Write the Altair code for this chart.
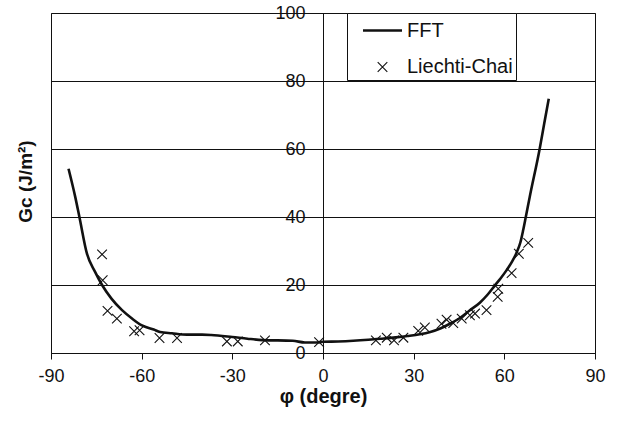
import altair as alt
import pandas as pd

# FFT prediction of the critical energy release rate vs ply angle
phi_fft = [-84.2, -82.0, -80.6, -78.1, -75.5, -73.1, -70.0, -66.5, -63.0, -59.9,
           -56.0, -53.9, -50.0, -45.0, -40.0, -37.0, -30.0, -25.0, -20.0, -10.0,
           -6.0, -2.0, 0.0, 5.0, 10.0, 15.0, 19.0, 24.0, 28.0, 32.0,
           35.5, 39.0, 42.0, 45.3, 48.5, 51.9, 54.5, 56.9, 58.8, 60.7,
           62.5, 64.0, 65.3, 66.2, 67.1, 68.4, 71.7, 73.2, 74.7]
gc_fft = [54.2, 46.0, 40.0, 29.2, 24.0, 20.0, 16.0, 12.6, 10.0, 8.1,
          6.9, 6.2, 5.8, 5.4, 5.4, 5.3, 4.7, 4.2, 3.8, 3.6,
          3.1, 3.1, 3.3, 3.4, 3.6, 3.9, 4.2, 4.6, 5.0, 5.5,
          6.2, 7.3, 8.6, 10.3, 12.5, 14.8, 17.2, 19.9, 22.0, 24.3,
          26.8, 29.4, 32.5, 36.0, 40.0, 45.9, 60.1, 67.5, 74.8]

# Liechti-Chai measurements
phi_lc = [-73.1, -72.9, -71.3, -68.2, -62.5, -60.7, -54.1, -48.3, -31.8, -28.2,
          -19.2, -1.3, 17.5, 21.1, 23.5, 26.6, 31.5, 33.7, 39.2, 40.9,
          43.1, 45.9, 48.6, 50.3, 54.1, 57.8, 58.0, 62.4, 64.8, 67.9]
gc_lc = [29.0, 21.4, 12.4, 10.1, 6.4, 6.7, 4.4, 4.4, 3.4, 3.4,
         3.7, 3.2, 3.7, 4.5, 3.7, 4.5, 6.5, 7.5, 8.6, 9.8,
         8.8, 10.1, 11.1, 11.6, 12.6, 16.5, 18.9, 23.5, 29.2, 32.4]

series_names = ["FFT", "Liechti-Chai"]
x_ticks = [-90, -60, -30, 0, 30, 60, 90]
y_ticks = [0, 20, 40, 60, 80, 100]

fft = pd.DataFrame({"phi": phi_fft, "gc": gc_fft})
lc = pd.DataFrame({"phi": phi_lc, "gc": gc_lc, "series": "Liechti-Chai"})

FONT = "Liberation Sans"
INK = "#111111"

# legend glyphs: a long stroke for the curve, a small x for the measurements
line_glyph = "M-1.5,0L1.5,0"
cross_glyph = "M-0.37,-0.37L0.37,0.37M-0.37,0.37L0.37,-0.37"

x_enc = alt.X(
    "phi:Q",
    scale=alt.Scale(domain=[-90, 90], nice=False, zero=False),
    axis=alt.Axis(
        values=x_ticks, title="φ (degre)", grid=False, labelFlush=False,
        labelExpr="datum.value + ''",
        domainColor=INK, tickColor=INK, tickSize=6, labelPadding=8,
        labelFont=FONT, labelFontSize=18, labelColor=INK,
        titleFont=FONT, titleFontSize=20, titleFontWeight="bold",
        titleColor=INK, titlePadding=1,
    ),
)
y_enc = alt.Y(
    "gc:Q",
    scale=alt.Scale(domain=[0, 100], nice=False),
    axis=alt.Axis(
        values=y_ticks, title="Gc (J/m²)", offset=-272, grid=True,
        gridColor=INK, gridWidth=1, domainColor=INK, ticks=False,
        labelPadding=18, labelFont=FONT, labelFontSize=18, labelColor=INK,
        titleFont=FONT, titleFontSize=19, titleFontWeight="bold",
        titleColor=INK, titleX=-288, titleY=168,
    ),
)

curve = alt.Chart(fft).mark_line(
    color=INK, strokeWidth=2.6, interpolate="monotone"
).encode(x=x_enc, y=y_enc)

points = alt.Chart(lc).mark_point(
    filled=False, color=INK, size=676, opacity=1
).encode(
    x=x_enc,
    y=y_enc,
    shape=alt.Shape(
        "series:N",
        scale=alt.Scale(domain=series_names, range=[line_glyph, cross_glyph]),
        legend=alt.Legend(title=None),
    ),
    strokeWidth=alt.StrokeWidth(
        "series:N",
        scale=alt.Scale(domain=series_names, range=[2.6, 1.1]),
        legend=alt.Legend(title=None),
    ),
)

chart = (
    alt.layer(curve, points)
    .properties(
        width=544, height=340,
        autosize=alt.AutoSizeParams(type="none"),
        padding={"left": 51, "top": 13, "right": 22, "bottom": 69},
        background="white",
    )
    .configure_view(stroke=INK, strokeWidth=1)
    .configure_legend(
        orient="none", legendX=296, legendY=0,
        fillColor="white", strokeColor=INK, strokeWidth=1, cornerRadius=0,
        padding=3, rowPadding=12, symbolOffset=18, labelOffset=10,
        symbolSize=676, symbolType="stroke",
        labelFont=FONT, labelFontSize=20, labelColor=INK, labelLimit=300,
        symbolStrokeColor=INK, symbolFillColor="transparent",
    )
)

chart.save("out.html", embed_options={"renderer": "svg", "actions": False})
